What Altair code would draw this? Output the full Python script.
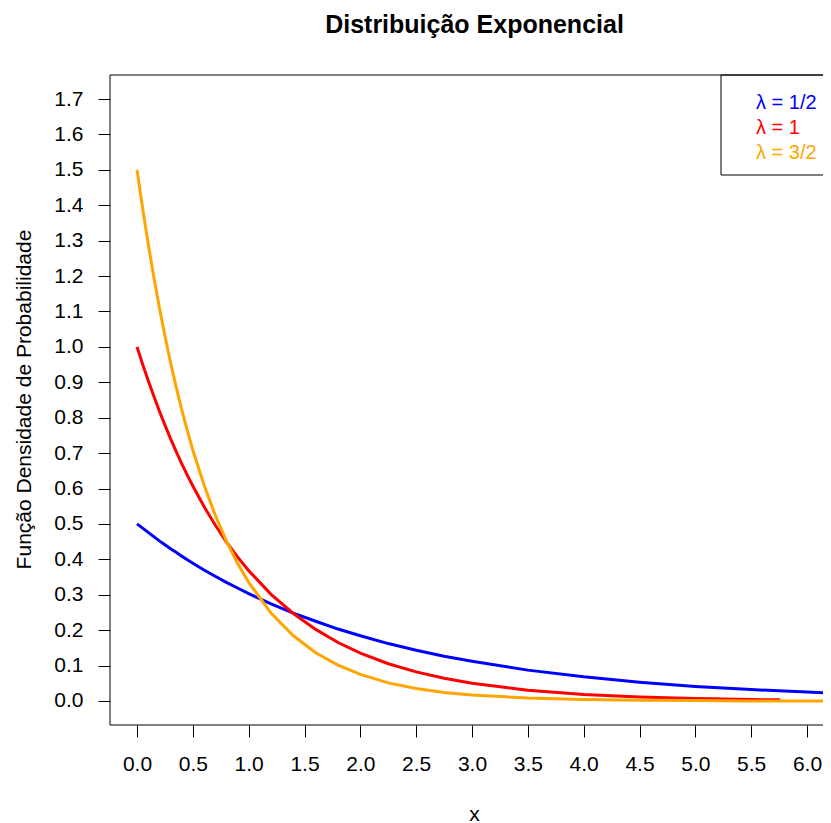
import altair as alt
import pandas as pd

# ---- data ----
x_grid = [0.0, 0.05, 0.1, 0.15, 0.2, 0.25, 0.3, 0.35, 0.4, 0.45, 0.5, 0.6, 0.7, 0.8, 0.9,
          1.0, 1.2, 1.4, 1.6, 1.8, 2.0, 2.25, 2.5, 2.75, 3.0, 3.5, 4.0, 4.5, 5.0, 5.5,
          6.0, 6.24]
blue_y = [0.500, 0.488, 0.476, 0.464, 0.452, 0.441, 0.430, 0.420, 0.409, 0.399, 0.389,
          0.370, 0.352, 0.335, 0.319, 0.303, 0.274, 0.248, 0.225, 0.203, 0.184, 0.162,
          0.143, 0.126, 0.112, 0.087, 0.068, 0.053, 0.041, 0.032, 0.025, 0.022]
orange_y = [1.500, 1.392, 1.291, 1.198, 1.111, 1.031, 0.956, 0.887, 0.823, 0.764, 0.708,
            0.610, 0.525, 0.452, 0.389, 0.335, 0.248, 0.184, 0.136, 0.101, 0.075, 0.051,
            0.035, 0.024, 0.017, 0.008, 0.004, 0.002, 0.001, 0.000, 0.000, 0.000]
red_x = [0.0, 0.05, 0.1, 0.15, 0.2, 0.25, 0.3, 0.35, 0.4, 0.45, 0.5, 0.6, 0.7, 0.8, 0.9,
         1.0, 1.2, 1.4, 1.6, 1.8, 2.0, 2.25, 2.5, 2.75, 3.0, 3.5, 4.0, 4.5, 5.0, 5.5, 5.76]
red_y = [1.000, 0.951, 0.905, 0.861, 0.819, 0.779, 0.741, 0.705, 0.670, 0.638, 0.607,
         0.549, 0.497, 0.449, 0.407, 0.368, 0.301, 0.247, 0.202, 0.165, 0.135, 0.105,
         0.082, 0.064, 0.050, 0.030, 0.018, 0.011, 0.007, 0.004, 0.003]

series_names = ["λ = 1/2", "λ = 1", "λ = 3/2"]
series_colors = ["#0000FF", "#FF0000", "#FFA500"]

x_ticks = [0.0, 0.5, 1.0, 1.5, 2.0, 2.5, 3.0, 3.5, 4.0, 4.5, 5.0, 5.5, 6.0]
y_ticks = [0.0, 0.1, 0.2, 0.3, 0.4, 0.5, 0.6, 0.7, 0.8, 0.9, 1.0, 1.1, 1.2, 1.3,
           1.4, 1.5, 1.6, 1.7]

title_text = "Distribuição Exponencial"
x_title = "x"
y_title = "Função Densidade de Probabilidade"

# ---- table ----
frames = [
    pd.DataFrame({"x": x_grid, "y": blue_y, "s": series_names[0]}),
    pd.DataFrame({"x": red_x, "y": red_y, "s": series_names[1]}),
    pd.DataFrame({"x": x_grid, "y": orange_y, "s": series_names[2]}),
]
df = pd.concat(frames, ignore_index=True)

W, H = 713, 650
FONT = "Liberation Sans"

xscale = alt.Scale(domain=[-0.242, 6.143], nice=False, zero=False)
yscale = alt.Scale(domain=[-0.068, 1.768], nice=False, zero=False)

x_axis = alt.Axis(values=x_ticks, format=".1f", title=x_title, grid=False, domain=False,
                  tickSize=12, tickColor="black", tickWidth=1,
                  labelFont=FONT, labelFontSize=21, labelColor="black", labelPadding=16,
                  labelFlush=False, labelOverlap=False,
                  titleFont=FONT, titleFontSize=21, titleFontWeight="normal", titleColor="black",
                  titleX=364, titleY=95, titleAnchor="start", titleAlign="center",
                  titleBaseline="alphabetic")
y_axis = alt.Axis(values=y_ticks, format=".1f", title=y_title, grid=False, domain=False,
                  tickSize=12, tickColor="black", tickWidth=1,
                  labelFont=FONT, labelFontSize=21, labelColor="black", labelPadding=15,
                  labelFlush=False, labelOverlap=False,
                  titleFont=FONT, titleFontSize=21, titleFontWeight="normal", titleColor="black",
                  titleX=-80, titleY=324, titleAngle=270, titleAnchor="start", titleAlign="center",
                  titleBaseline="alphabetic")

base = alt.Chart(df)
layers = []
for i, name in enumerate(series_names):
    layers.append(
        base.transform_filter(alt.datum.s == name)
        .mark_line(color=series_colors[i], strokeWidth=3, clip=True)
        .encode(
            x=alt.X("x:Q", scale=xscale, axis=x_axis),
            y=alt.Y("y:Q", scale=yscale, axis=y_axis),
            order="x:Q",
        )
    )

one = pd.DataFrame({"a": [0]})
frame = alt.Chart(one).mark_rect(filled=False, stroke="black", strokeWidth=1).encode(
    x=alt.value(0), x2=alt.value(W + 10), y=alt.value(0), y2=alt.value(H)
)
legend_box = alt.Chart(one).mark_rect(fill="white", stroke="black", strokeWidth=1).encode(
    x=alt.value(611), x2=alt.value(W + 10), y=alt.value(0), y2=alt.value(100)
)
legend_rows = [28, 53, 78]
legend_texts = []
for i, name in enumerate(series_names):
    legend_texts.append(
        alt.Chart(pd.DataFrame({"label": [name]})).mark_text(
            align="left", baseline="middle", font=FONT, fontSize=20, color=series_colors[i]
        ).encode(text="label:N", x=alt.value(646), y=alt.value(legend_rows[i]))
    )

chart = alt.layer(*layers, legend_box, *legend_texts, frame).properties(
    width=W, height=H,
    title=alt.TitleParams(title_text, font=FONT, fontSize=25, fontWeight="bold", color="black",
                          anchor="middle", baseline="alphabetic", offset=17, dx=8),
    autosize=alt.AutoSizeParams(type="none"),
    padding={"left": 102, "top": 67, "right": 0, "bottom": 98},
).configure_view(stroke=None)

chart.save("out.html", embed_options={"renderer": "svg", "actions": False})
